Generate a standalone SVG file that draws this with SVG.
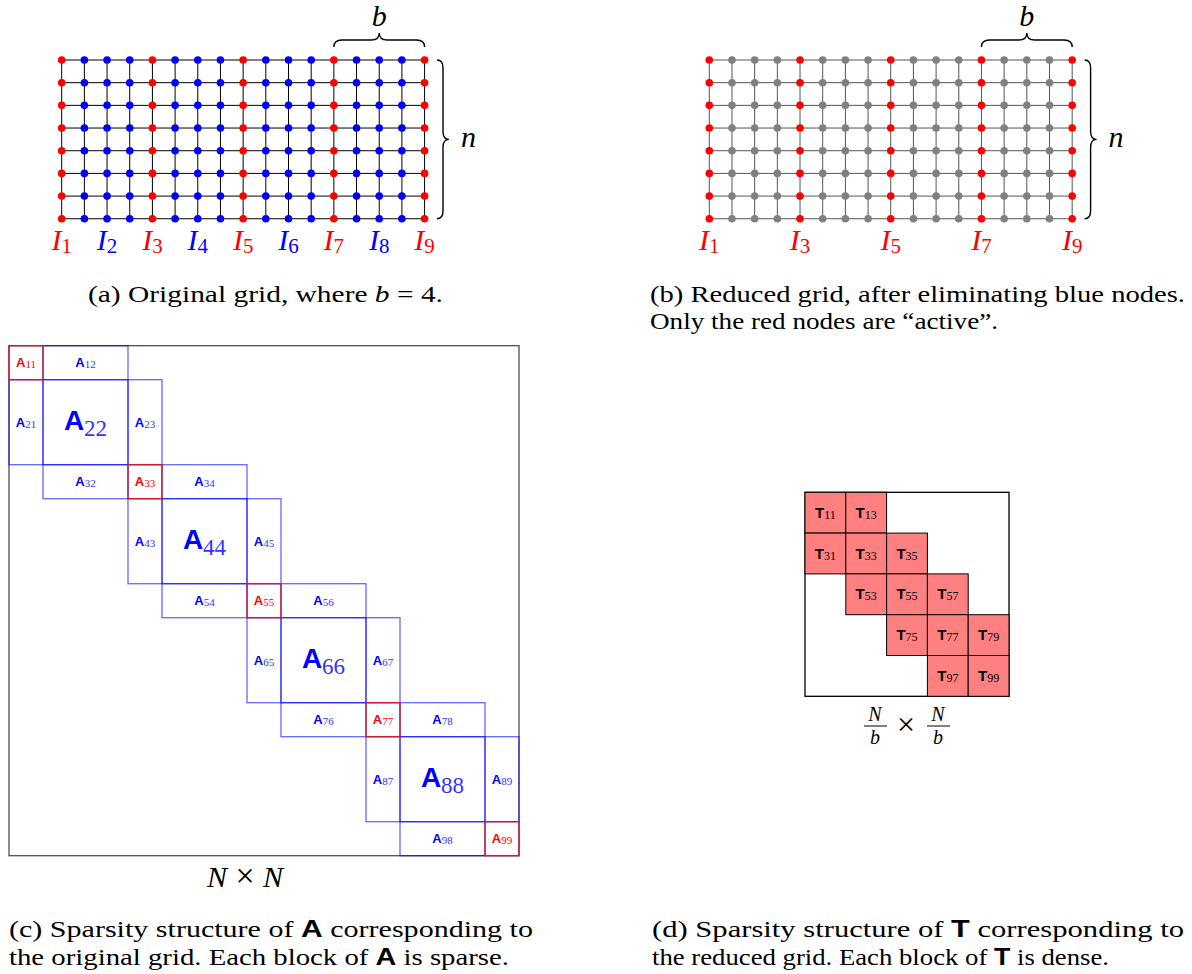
<svg xmlns="http://www.w3.org/2000/svg" width="1192" height="974" viewBox="0 0 1192 974">
<style>
.ln{fill:none;stroke:#000;stroke-width:1}
.lnb{fill:none;stroke:#555;stroke-width:1}
.br{fill:none;stroke:#000;stroke-width:1.4}
.mi{font-family:'Liberation Serif','Times New Roman',Times,serif;font-style:italic;font-size:30px}
.sub{font-style:normal;font-size:21px}
.cap{font-family:'Liberation Serif','Times New Roman',Times,serif;font-size:23px;fill:#000}
.bs{font-family:'Liberation Sans',Arial,sans-serif;font-weight:bold;font-style:normal}
.red{fill:#ff0000}
.blue{fill:#0000ff}
.blk{fill:none;stroke:#0000ff;stroke-opacity:.6;stroke-width:1.3}
.rblk{fill:none;stroke:#c8203c;stroke-width:1.5}
.sA{font-family:'Liberation Sans',Arial,sans-serif;font-weight:bold;font-size:13px}
.ss{font-family:'Liberation Serif','Times New Roman',serif;font-size:11px}
.bA{font-family:'Liberation Sans',Arial,sans-serif;font-weight:bold;font-size:28px}
.bsub{font-family:'Liberation Serif','Times New Roman',serif;font-size:23px}
.bsubc{fill:#3333ff}
.cell{fill:#ff8080;stroke:#000;stroke-width:1}
.tT{font-family:'Liberation Sans',Arial,sans-serif;font-weight:bold;font-size:15px;fill:#000}
.ts{font-family:'Liberation Serif','Times New Roman',serif;font-size:12px;fill:#000}
.fr{font-family:'Liberation Serif','Times New Roman',serif;font-style:italic;font-size:20px}
.times{font-family:'Liberation Serif','Times New Roman',serif;font-style:normal}
</style>
<defs>
<g id="colR" fill="#ff0000"><circle cx="0" cy="60" r="3.8"/><circle cx="0" cy="82.68" r="3.8"/><circle cx="0" cy="105.36" r="3.8"/><circle cx="0" cy="128.04" r="3.8"/><circle cx="0" cy="150.72" r="3.8"/><circle cx="0" cy="173.4" r="3.8"/><circle cx="0" cy="196.08" r="3.8"/><circle cx="0" cy="218.76" r="3.8"/></g>
<g id="colB" fill="#0000ff"><circle cx="0" cy="60" r="3.8"/><circle cx="0" cy="82.68" r="3.8"/><circle cx="0" cy="105.36" r="3.8"/><circle cx="0" cy="128.04" r="3.8"/><circle cx="0" cy="150.72" r="3.8"/><circle cx="0" cy="173.4" r="3.8"/><circle cx="0" cy="196.08" r="3.8"/><circle cx="0" cy="218.76" r="3.8"/></g>
<g id="colG" fill="#808080"><circle cx="0" cy="60" r="3.8"/><circle cx="0" cy="82.68" r="3.8"/><circle cx="0" cy="105.36" r="3.8"/><circle cx="0" cy="128.04" r="3.8"/><circle cx="0" cy="150.72" r="3.8"/><circle cx="0" cy="173.4" r="3.8"/><circle cx="0" cy="196.08" r="3.8"/><circle cx="0" cy="218.76" r="3.8"/></g>
<path id="gridlines" d="M61.7,60H424.58M61.7,82.68H424.58M61.7,105.36H424.58M61.7,128.04H424.58M61.7,150.72H424.58M61.7,173.4H424.58M61.7,196.08H424.58M61.7,218.76H424.58M61.7,60V218.76M84.38,60V218.76M107.06,60V218.76M129.74,60V218.76M152.42,60V218.76M175.1,60V218.76M197.78,60V218.76M220.46,60V218.76M243.14,60V218.76M265.82,60V218.76M288.5,60V218.76M311.18,60V218.76M333.86,60V218.76M356.54,60V218.76M379.22,60V218.76M401.9,60V218.76M424.58,60V218.76"/>
<path id="braceB" d="M333.86,47 Q333.86,40 341.86,40 L371.22,40 Q379.22,40 379.22,33 Q379.22,40 387.22,40 L416.58,40 Q424.58,40 424.58,47"/>
<path id="braceN" d="M437,60 Q443,60 443,68 L443,131.4 Q443,139.4 449,139.4 Q443,139.4 443,147.4 L443,210.76 Q443,218.76 437,218.76"/>
</defs>

<g id="grid-a">
<use href="#gridlines" class="ln"/>
<use href="#colR" x="61.7"/><use href="#colB" x="84.38"/><use href="#colB" x="107.06"/><use href="#colB" x="129.74"/>
<use href="#colR" x="152.42"/><use href="#colB" x="175.1"/><use href="#colB" x="197.78"/><use href="#colB" x="220.46"/>
<use href="#colR" x="243.14"/><use href="#colB" x="265.82"/><use href="#colB" x="288.5"/><use href="#colB" x="311.18"/>
<use href="#colR" x="333.86"/><use href="#colB" x="356.54"/><use href="#colB" x="379.22"/><use href="#colB" x="401.9"/>
<use href="#colR" x="424.58"/>
<use href="#braceB" class="br"/>
<text class="mi" x="379.22" y="26" text-anchor="middle" font-size="26">b</text>
<use href="#braceN" class="br"/>
<text class="mi" x="461" y="147">n</text>
<g class="mi" text-anchor="middle">
<text x="61.7" y="250" class="red">I<tspan class="sub" dy="3">1</tspan></text>
<text x="107.06" y="250" class="blue">I<tspan class="sub" dy="3">2</tspan></text>
<text x="152.42" y="250" class="red">I<tspan class="sub" dy="3">3</tspan></text>
<text x="197.78" y="250" class="blue">I<tspan class="sub" dy="3">4</tspan></text>
<text x="243.14" y="250" class="red">I<tspan class="sub" dy="3">5</tspan></text>
<text x="288.5" y="250" class="blue">I<tspan class="sub" dy="3">6</tspan></text>
<text x="333.86" y="250" class="red">I<tspan class="sub" dy="3">7</tspan></text>
<text x="379.22" y="250" class="blue">I<tspan class="sub" dy="3">8</tspan></text>
<text x="424.58" y="250" class="red">I<tspan class="sub" dy="3">9</tspan></text>
</g>
<text class="cap" x="88" y="302" textLength="355" lengthAdjust="spacingAndGlyphs">(a) Original grid, where <tspan font-style="italic">b</tspan> = 4.</text>
</g>

<g id="grid-b">
<g transform="translate(647.6,0)">
<use href="#gridlines" class="lnb"/>
<use href="#colR" x="61.7"/><use href="#colG" x="84.38"/><use href="#colG" x="107.06"/><use href="#colG" x="129.74"/>
<use href="#colR" x="152.42"/><use href="#colG" x="175.1"/><use href="#colG" x="197.78"/><use href="#colG" x="220.46"/>
<use href="#colR" x="243.14"/><use href="#colG" x="265.82"/><use href="#colG" x="288.5"/><use href="#colG" x="311.18"/>
<use href="#colR" x="333.86"/><use href="#colG" x="356.54"/><use href="#colG" x="379.22"/><use href="#colG" x="401.9"/>
<use href="#colR" x="424.58"/>
<use href="#braceB" class="br"/>
<use href="#braceN" class="br"/>
</g>
<text class="mi" x="1026.82" y="26" text-anchor="middle" font-size="26">b</text>
<text class="mi" x="1108.6" y="147">n</text>
<g class="mi red" text-anchor="middle">
<text x="709.3" y="250">I<tspan class="sub" dy="3">1</tspan></text>
<text x="800.02" y="250">I<tspan class="sub" dy="3">3</tspan></text>
<text x="890.74" y="250">I<tspan class="sub" dy="3">5</tspan></text>
<text x="981.46" y="250">I<tspan class="sub" dy="3">7</tspan></text>
<text x="1072.18" y="250">I<tspan class="sub" dy="3">9</tspan></text>
</g>
<text class="cap" x="650" y="302" textLength="535" lengthAdjust="spacingAndGlyphs">(b) Reduced grid, after eliminating blue nodes.</text>
<text class="cap" x="650" y="329" textLength="348" lengthAdjust="spacingAndGlyphs">Only the red nodes are “active”.</text>
</g>

<g id="matrix-A">
<rect x="9" y="345.7" width="510" height="510" fill="none" stroke="#505050" stroke-width="1.3"/>
<g id="A12"><rect class="blk" x="43" y="345.7" width="85" height="34"/><text x="85.5" y="367.4" text-anchor="middle" class="blue"><tspan class="sA">A</tspan><tspan class="ss bsubc" dy="1">12</tspan></text></g>
<g id="A21"><rect class="blk" x="9" y="379.7" width="34" height="85"/><text x="26" y="426.9" text-anchor="middle" class="blue"><tspan class="sA">A</tspan><tspan class="ss bsubc" dy="1">21</tspan></text></g>
<g id="A22"><rect class="blk" x="43" y="379.7" width="85" height="85"/><text x="85.5" y="430" text-anchor="middle" class="blue"><tspan class="bA">A</tspan><tspan class="bsub bsubc" dy="5.5">22</tspan></text></g>
<g id="A23"><rect class="blk" x="128" y="379.7" width="34" height="85"/><text x="145" y="426.9" text-anchor="middle" class="blue"><tspan class="sA">A</tspan><tspan class="ss bsubc" dy="1">23</tspan></text></g>
<g id="A32"><rect class="blk" x="43" y="464.7" width="85" height="34"/><text x="85.5" y="486.4" text-anchor="middle" class="blue"><tspan class="sA">A</tspan><tspan class="ss bsubc" dy="1">32</tspan></text></g>
<g id="A34"><rect class="blk" x="162" y="464.7" width="85" height="34"/><text x="204.5" y="486.4" text-anchor="middle" class="blue"><tspan class="sA">A</tspan><tspan class="ss bsubc" dy="1">34</tspan></text></g>
<g id="A43"><rect class="blk" x="128" y="498.7" width="34" height="85"/><text x="145" y="545.9" text-anchor="middle" class="blue"><tspan class="sA">A</tspan><tspan class="ss bsubc" dy="1">43</tspan></text></g>
<g id="A44"><rect class="blk" x="162" y="498.7" width="85" height="85"/><text x="204.5" y="549" text-anchor="middle" class="blue"><tspan class="bA">A</tspan><tspan class="bsub bsubc" dy="5.5">44</tspan></text></g>
<g id="A45"><rect class="blk" x="247" y="498.7" width="34" height="85"/><text x="264" y="545.9" text-anchor="middle" class="blue"><tspan class="sA">A</tspan><tspan class="ss bsubc" dy="1">45</tspan></text></g>
<g id="A54"><rect class="blk" x="162" y="583.7" width="85" height="34"/><text x="204.5" y="605.4" text-anchor="middle" class="blue"><tspan class="sA">A</tspan><tspan class="ss bsubc" dy="1">54</tspan></text></g>
<g id="A56"><rect class="blk" x="281" y="583.7" width="85" height="34"/><text x="323.5" y="605.4" text-anchor="middle" class="blue"><tspan class="sA">A</tspan><tspan class="ss bsubc" dy="1">56</tspan></text></g>
<g id="A65"><rect class="blk" x="247" y="617.7" width="34" height="85"/><text x="264" y="664.9" text-anchor="middle" class="blue"><tspan class="sA">A</tspan><tspan class="ss bsubc" dy="1">65</tspan></text></g>
<g id="A66"><rect class="blk" x="281" y="617.7" width="85" height="85"/><text x="323.5" y="668" text-anchor="middle" class="blue"><tspan class="bA">A</tspan><tspan class="bsub bsubc" dy="5.5">66</tspan></text></g>
<g id="A67"><rect class="blk" x="366" y="617.7" width="34" height="85"/><text x="383" y="664.9" text-anchor="middle" class="blue"><tspan class="sA">A</tspan><tspan class="ss bsubc" dy="1">67</tspan></text></g>
<g id="A76"><rect class="blk" x="281" y="702.7" width="85" height="34"/><text x="323.5" y="724.4" text-anchor="middle" class="blue"><tspan class="sA">A</tspan><tspan class="ss bsubc" dy="1">76</tspan></text></g>
<g id="A78"><rect class="blk" x="400" y="702.7" width="85" height="34"/><text x="442.5" y="724.4" text-anchor="middle" class="blue"><tspan class="sA">A</tspan><tspan class="ss bsubc" dy="1">78</tspan></text></g>
<g id="A87"><rect class="blk" x="366" y="736.7" width="34" height="85"/><text x="383" y="783.9" text-anchor="middle" class="blue"><tspan class="sA">A</tspan><tspan class="ss bsubc" dy="1">87</tspan></text></g>
<g id="A88"><rect class="blk" x="400" y="736.7" width="85" height="85"/><text x="442.5" y="787" text-anchor="middle" class="blue"><tspan class="bA">A</tspan><tspan class="bsub bsubc" dy="5.5">88</tspan></text></g>
<g id="A89"><rect class="blk" x="485" y="736.7" width="34" height="85"/><text x="502" y="783.9" text-anchor="middle" class="blue"><tspan class="sA">A</tspan><tspan class="ss bsubc" dy="1">89</tspan></text></g>
<g id="A98"><rect class="blk" x="400" y="821.7" width="85" height="34"/><text x="442.5" y="843.4" text-anchor="middle" class="blue"><tspan class="sA">A</tspan><tspan class="ss bsubc" dy="1">98</tspan></text></g>
<g id="A11"><rect class="rblk" x="9" y="345.7" width="34" height="34"/><text x="26" y="367.4" text-anchor="middle" class="red"><tspan class="sA">A</tspan><tspan class="ss" dy="1">11</tspan></text></g>
<g id="A33"><rect class="rblk" x="128" y="464.7" width="34" height="34"/><text x="145" y="486.4" text-anchor="middle" class="red"><tspan class="sA">A</tspan><tspan class="ss" dy="1">33</tspan></text></g>
<g id="A55"><rect class="rblk" x="247" y="583.7" width="34" height="34"/><text x="264" y="605.4" text-anchor="middle" class="red"><tspan class="sA">A</tspan><tspan class="ss" dy="1">55</tspan></text></g>
<g id="A77"><rect class="rblk" x="366" y="702.7" width="34" height="34"/><text x="383" y="724.4" text-anchor="middle" class="red"><tspan class="sA">A</tspan><tspan class="ss" dy="1">77</tspan></text></g>
<g id="A99"><rect class="rblk" x="485" y="821.7" width="34" height="34"/><text x="502" y="843.4" text-anchor="middle" class="red"><tspan class="sA">A</tspan><tspan class="ss" dy="1">99</tspan></text></g>
<text class="mi" x="245" y="887" text-anchor="middle" font-size="28">N<tspan class="times" font-size="34"> × </tspan>N</text>
<text class="cap" x="9" y="937" textLength="524" lengthAdjust="spacingAndGlyphs">(c) Sparsity structure of <tspan class="bs">A</tspan> corresponding to</text>
<text class="cap" x="9" y="965" textLength="500" lengthAdjust="spacingAndGlyphs">the original grid. Each block of <tspan class="bs">A</tspan> is sparse.</text>
</g>

<g id="matrix-T">
<rect x="805" y="492.3" width="204" height="204" fill="none" stroke="#000" stroke-width="1.3"/>
<g id="T11"><rect class="cell" x="805" y="492.3" width="40.8" height="40.8"/><text x="825.4" y="517.7" text-anchor="middle"><tspan class="tT">T</tspan><tspan class="ts" dy="1">11</tspan></text></g>
<g id="T13"><rect class="cell" x="845.8" y="492.3" width="40.8" height="40.8"/><text x="866.2" y="517.7" text-anchor="middle"><tspan class="tT">T</tspan><tspan class="ts" dy="1">13</tspan></text></g>
<g id="T31"><rect class="cell" x="805" y="533.1" width="40.8" height="40.8"/><text x="825.4" y="558.5" text-anchor="middle"><tspan class="tT">T</tspan><tspan class="ts" dy="1">31</tspan></text></g>
<g id="T33"><rect class="cell" x="845.8" y="533.1" width="40.8" height="40.8"/><text x="866.2" y="558.5" text-anchor="middle"><tspan class="tT">T</tspan><tspan class="ts" dy="1">33</tspan></text></g>
<g id="T35"><rect class="cell" x="886.6" y="533.1" width="40.8" height="40.8"/><text x="907" y="558.5" text-anchor="middle"><tspan class="tT">T</tspan><tspan class="ts" dy="1">35</tspan></text></g>
<g id="T53"><rect class="cell" x="845.8" y="573.9" width="40.8" height="40.8"/><text x="866.2" y="599.3" text-anchor="middle"><tspan class="tT">T</tspan><tspan class="ts" dy="1">53</tspan></text></g>
<g id="T55"><rect class="cell" x="886.6" y="573.9" width="40.8" height="40.8"/><text x="907" y="599.3" text-anchor="middle"><tspan class="tT">T</tspan><tspan class="ts" dy="1">55</tspan></text></g>
<g id="T57"><rect class="cell" x="927.4" y="573.9" width="40.8" height="40.8"/><text x="947.8" y="599.3" text-anchor="middle"><tspan class="tT">T</tspan><tspan class="ts" dy="1">57</tspan></text></g>
<g id="T75"><rect class="cell" x="886.6" y="614.7" width="40.8" height="40.8"/><text x="907" y="640.1" text-anchor="middle"><tspan class="tT">T</tspan><tspan class="ts" dy="1">75</tspan></text></g>
<g id="T77"><rect class="cell" x="927.4" y="614.7" width="40.8" height="40.8"/><text x="947.8" y="640.1" text-anchor="middle"><tspan class="tT">T</tspan><tspan class="ts" dy="1">77</tspan></text></g>
<g id="T79"><rect class="cell" x="968.2" y="614.7" width="40.8" height="40.8"/><text x="988.6" y="640.1" text-anchor="middle"><tspan class="tT">T</tspan><tspan class="ts" dy="1">79</tspan></text></g>
<g id="T97"><rect class="cell" x="927.4" y="655.5" width="40.8" height="40.8"/><text x="947.8" y="680.9" text-anchor="middle"><tspan class="tT">T</tspan><tspan class="ts" dy="1">97</tspan></text></g>
<g id="T99"><rect class="cell" x="968.2" y="655.5" width="40.8" height="40.8"/><text x="988.6" y="680.9" text-anchor="middle"><tspan class="tT">T</tspan><tspan class="ts" dy="1">99</tspan></text></g>
<g id="size-T">
<text class="fr" x="875" y="721" text-anchor="middle">N</text>
<line x1="864" y1="726" x2="887" y2="726" stroke="#000" stroke-width="1"/>
<text class="fr" x="875" y="744" text-anchor="middle">b</text>
<text class="times" x="906" y="735" text-anchor="middle" font-size="32">×</text>
<text class="fr" x="938" y="721" text-anchor="middle">N</text>
<line x1="927" y1="726" x2="950" y2="726" stroke="#000" stroke-width="1"/>
<text class="fr" x="938" y="744" text-anchor="middle">b</text>
</g>
<text class="cap" x="652" y="937" textLength="532" lengthAdjust="spacingAndGlyphs">(d) Sparsity structure of <tspan class="bs">T</tspan> corresponding to</text>
<text class="cap" x="652" y="965" textLength="457" lengthAdjust="spacingAndGlyphs">the reduced grid. Each block of <tspan class="bs">T</tspan> is dense.</text>
</g>
</svg>
